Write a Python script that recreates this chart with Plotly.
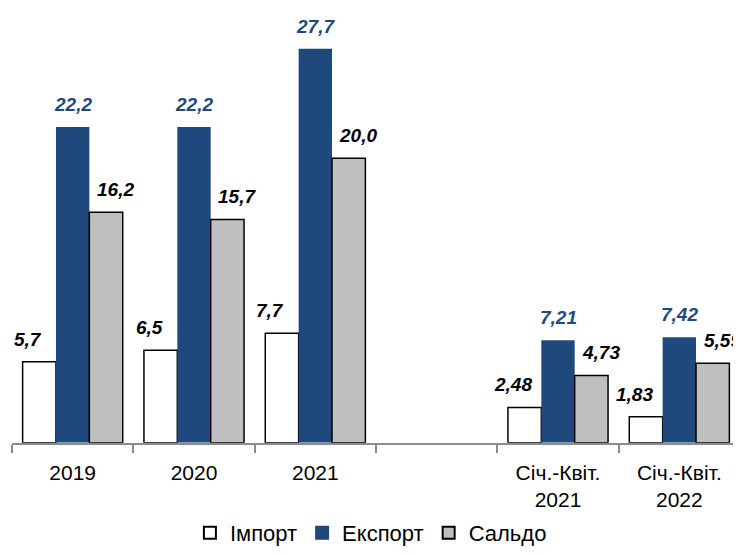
import plotly.graph_objects as go

categories = ["2019", "2020", "2021", " ", "Січ.-Квіт.<br>2021", "Січ.-Квіт.<br>2022"]
import_vals = [5.7, 6.5, 7.7, None, 2.48, 1.83]
export_vals = [22.2, 22.2, 27.7, None, 7.21, 7.42]
saldo_vals = [16.2, 15.7, 20.0, None, 4.73, 5.59]
import_labels = ["5,7", "6,5", "7,7", "", "2,48", "1,83"]
export_labels = ["22,2", "22,2", "27,7", "", "7,21", "7,42"]
saldo_labels = ["16,2", "15,7", "20,0", "", "4,73", "5,59"]
series_names = ["Імпорт", "Експорт", "Сальдо"]

BLUE = "#1F497D"
GRAY = "#BFBFBF"
FONT = "Liberation Sans"

fills = ["white", BLUE, GRAY]
edges = ["black", BLUE, "black"]
series = [import_vals, export_vals, saldo_vals]

fig = go.Figure()
for name, vals, fc, ec in zip(series_names, series, fills, edges):
    fig.add_trace(go.Bar(x=categories, y=vals, name=name, showlegend=False,
                         marker=dict(color=fc, line=dict(color=ec, width=1.5 if ec == "black" else 0))))
# legend-only entries with larger square swatches
for name, fc, ec in zip(series_names, fills, edges):
    fig.add_trace(go.Scatter(x=[None], y=[None], mode="markers", name=name,
                             marker=dict(symbol="square", size=15, color=fc,
                                         line=dict(color=ec, width=1.5))))

def add_labels(vals, labels, xshift, color):
    for i, (v, t) in enumerate(zip(vals, labels)):
        if v is None:
            continue
        fig.add_annotation(x=i, y=v, text=t, showarrow=False, xref="x", yref="y",
                           xanchor="center", yanchor="bottom", xshift=xshift, yshift=10,
                           font=dict(family=FONT, size=19, color=color,
                                     weight="bold", style="italic"))

add_labels(import_vals, import_labels, -45, "black")
add_labels(export_vals, export_labels, 0, BLUE)
add_labels(saldo_vals, saldo_labels, 43, "black")

fig.update_layout(
    width=733, height=546,
    margin=dict(l=4, r=1, t=8, b=102),
    barmode="group", bargap=0.175, bargroupgap=0,
    plot_bgcolor="white", paper_bgcolor="white",
    font=dict(family=FONT, size=20, color="black"),
    showlegend=True,
    legend=dict(orientation="h", x=0.493, xanchor="center", xref="paper",
                yref="container", y=0.0, yanchor="bottom",
                font=dict(family=FONT, size=22, color="black"),
                itemsizing="constant", traceorder="normal", itemwidth=30,
                tracegroupgap=0),
)
fig.update_xaxes(type="category", categoryorder="array", categoryarray=categories,
                 range=[-0.5, len(categories) - 0.5],
                 showline=True, linecolor="#8C8C8C", linewidth=1.5,
                 ticks="outside", tickson="boundaries", ticklen=8, tickcolor="#8C8C8C",
                 tickwidth=1.5, showgrid=False, ticklabelstandoff=10,
                 tickfont=dict(family=FONT, size=21, color="black"))
fig.update_yaxes(range=[0, 30], visible=False, showgrid=False, zeroline=False)

fig.write_html("out.html")
